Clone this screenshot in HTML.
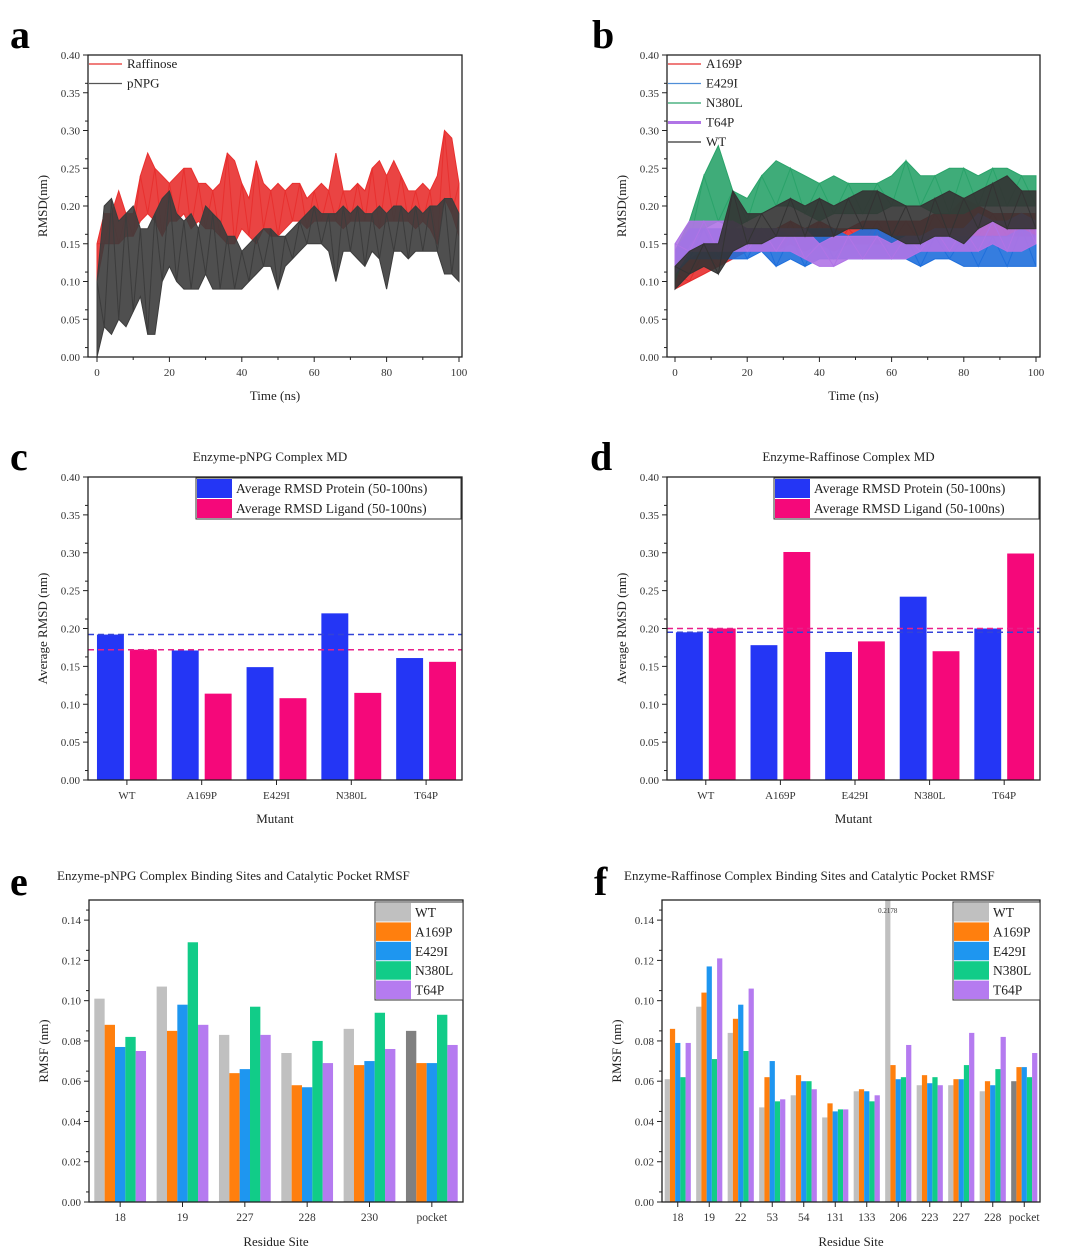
<!DOCTYPE html>
<html><head><meta charset="utf-8"><style>
body{margin:0;background:#fff}
svg{display:block;font-family:"Liberation Serif",serif}
</style></head><body>
<svg id="fig" width="1080" height="1259" viewBox="0 0 1080 1259"></svg>
<script>
// ---------- data ----------
const tA = [0,2,4,6,8,10,12,14,16,18,20,22,24,26,28,30,32,34,36,38,40,42,44,46,48,50,52,54,56,58,60,62,64,66,68,70,72,74,76,78,80,82,84,86,88,90,92,94,96,98,100];
const raffHi = [0.15,0.19,0.19,0.22,0.19,0.19,0.24,0.27,0.25,0.24,0.23,0.24,0.25,0.25,0.23,0.23,0.22,0.23,0.27,0.26,0.23,0.21,0.26,0.23,0.22,0.23,0.22,0.23,0.23,0.21,0.22,0.23,0.22,0.27,0.22,0.22,0.23,0.22,0.25,0.26,0.24,0.26,0.24,0.22,0.22,0.23,0.22,0.24,0.30,0.29,0.23];
const raffLo = [0.10,0.15,0.15,0.15,0.16,0.16,0.18,0.19,0.18,0.16,0.18,0.18,0.19,0.17,0.18,0.17,0.17,0.16,0.15,0.15,0.17,0.16,0.15,0.17,0.16,0.16,0.17,0.18,0.18,0.17,0.18,0.18,0.18,0.18,0.17,0.18,0.18,0.18,0.18,0.17,0.18,0.18,0.18,0.18,0.17,0.18,0.17,0.15,0.21,0.19,0.16];
const pnpgHi = [0.10,0.20,0.21,0.18,0.19,0.20,0.17,0.17,0.19,0.21,0.22,0.19,0.18,0.19,0.17,0.20,0.19,0.18,0.16,0.16,0.14,0.15,0.16,0.17,0.17,0.16,0.16,0.17,0.18,0.19,0.20,0.19,0.19,0.19,0.20,0.19,0.20,0.19,0.19,0.20,0.19,0.20,0.20,0.19,0.20,0.19,0.20,0.20,0.21,0.21,0.19];
const pnpgLo = [0.00,0.04,0.03,0.05,0.04,0.06,0.08,0.03,0.03,0.10,0.12,0.10,0.09,0.09,0.09,0.11,0.09,0.09,0.09,0.09,0.09,0.10,0.11,0.12,0.12,0.09,0.12,0.13,0.14,0.15,0.15,0.15,0.14,0.10,0.14,0.14,0.13,0.12,0.14,0.13,0.09,0.14,0.14,0.13,0.14,0.14,0.14,0.14,0.11,0.11,0.10];

const tB = [0,4,8,12,16,20,24,28,32,36,40,44,48,52,56,60,64,68,72,76,80,84,88,92,96,100];
const a169Hi = [0.11,0.13,0.14,0.15,0.16,0.17,0.17,0.17,0.18,0.17,0.18,0.17,0.17,0.18,0.18,0.18,0.18,0.18,0.19,0.19,0.21,0.20,0.19,0.19,0.19,0.19];
const a169Lo = [0.09,0.10,0.11,0.12,0.13,0.14,0.14,0.14,0.15,0.14,0.15,0.14,0.15,0.15,0.15,0.15,0.15,0.15,0.16,0.16,0.16,0.16,0.16,0.16,0.16,0.16];
const n380Hi = [0.14,0.18,0.24,0.28,0.22,0.21,0.24,0.26,0.25,0.24,0.23,0.24,0.23,0.23,0.23,0.24,0.26,0.24,0.24,0.25,0.25,0.24,0.25,0.25,0.24,0.24];
const n380Lo = [0.10,0.15,0.17,0.18,0.17,0.18,0.19,0.20,0.20,0.19,0.18,0.19,0.19,0.19,0.19,0.20,0.20,0.20,0.19,0.19,0.19,0.20,0.20,0.20,0.20,0.20];
const e429Hi = [0.14,0.17,0.17,0.17,0.17,0.17,0.17,0.17,0.16,0.17,0.17,0.17,0.16,0.17,0.17,0.16,0.16,0.16,0.16,0.16,0.16,0.16,0.16,0.16,0.17,0.16];
const e429Lo = [0.11,0.13,0.13,0.13,0.13,0.13,0.14,0.12,0.13,0.12,0.13,0.13,0.13,0.13,0.13,0.13,0.13,0.12,0.13,0.13,0.12,0.12,0.12,0.12,0.12,0.12];
const t64Hi = [0.15,0.18,0.18,0.18,0.18,0.17,0.17,0.17,0.17,0.17,0.15,0.16,0.16,0.16,0.16,0.15,0.16,0.16,0.17,0.17,0.17,0.19,0.18,0.18,0.19,0.18];
const t64Lo = [0.11,0.14,0.14,0.14,0.14,0.14,0.14,0.14,0.14,0.13,0.12,0.12,0.13,0.13,0.13,0.13,0.13,0.14,0.14,0.14,0.14,0.14,0.15,0.14,0.14,0.15];
const wtHi = [0.12,0.14,0.15,0.15,0.22,0.19,0.19,0.20,0.21,0.20,0.21,0.20,0.21,0.22,0.22,0.21,0.20,0.20,0.21,0.22,0.21,0.22,0.23,0.24,0.22,0.22];
const wtLo = [0.09,0.11,0.12,0.11,0.14,0.15,0.15,0.16,0.16,0.16,0.16,0.16,0.17,0.17,0.17,0.16,0.15,0.15,0.16,0.16,0.15,0.17,0.18,0.17,0.17,0.17];

const mutants = ["WT","A169P","E429I","N380L","T64P"];
const cProtein = [0.192,0.171,0.149,0.220,0.161];
const cLigand = [0.172,0.114,0.108,0.115,0.156];
const cMeanProtein = 0.192, cMeanLigand = 0.172;
const dProtein = [0.195,0.178,0.169,0.242,0.200];
const dLigand = [0.200,0.301,0.183,0.170,0.299];
const dMeanProtein = 0.195, dMeanLigand = 0.200;

const eSites = ["18","19","227","228","230","pocket"];
const eWT = [0.101,0.107,0.083,0.074,0.086,0.085];
const eA169P = [0.088,0.085,0.064,0.058,0.068,0.069];
const eE429I = [0.077,0.098,0.066,0.057,0.070,0.069];
const eN380L = [0.082,0.129,0.097,0.080,0.094,0.093];
const eT64P = [0.075,0.088,0.083,0.069,0.076,0.078];

const fSites = ["18","19","22","53","54","131","133","206","223","227","228","pocket"];
const fWT = [0.061,0.097,0.084,0.047,0.053,0.042,0.055,0.2178,0.058,0.058,0.055,0.060];
const fA169P = [0.086,0.104,0.091,0.062,0.063,0.049,0.056,0.068,0.063,0.061,0.060,0.067];
const fE429I = [0.079,0.117,0.098,0.070,0.060,0.045,0.055,0.061,0.059,0.061,0.058,0.067];
const fN380L = [0.062,0.071,0.075,0.050,0.060,0.046,0.050,0.062,0.062,0.068,0.066,0.062];
const fT64P = [0.079,0.121,0.106,0.051,0.056,0.046,0.053,0.078,0.058,0.084,0.082,0.074];

const rmsTicks = ["0.00","0.05","0.10","0.15","0.20","0.25","0.30","0.35","0.40"];
const rmsfTicks = ["0.00","0.02","0.04","0.06","0.08","0.10","0.12","0.14"];
const timeTicks = [0,20,40,60,80,100];

// ---------- helpers ----------
const NS="http://www.w3.org/2000/svg";
const svg=document.getElementById('fig');
function el(tag,attrs,parent,text){const e=document.createElementNS(NS,tag);for(const k in attrs)e.setAttribute(k,attrs[k]);if(text!==undefined)e.textContent=text;(parent||svg).appendChild(e);return e;}
function lin(d0,d1,r0,r1){return v=>r0+(v-d0)/(d1-d0)*(r1-r0);}
function group(name){const g=el('g',{});return g;}

function frame(g,L,R,T,B){
  const r=el('rect',{x:L,y:T,width:R-L,height:B-T,fill:'none',stroke:'#222','stroke-width':1.3},g);
  
}
function yAxis(g,L,y,ticks,maxV,step){
  ticks.forEach(t=>{const v=parseFloat(t);const yy=y(v);
    el('line',{x1:L-5,x2:L,y1:yy,y2:yy,stroke:'#222','stroke-width':1},g);
    const tx=el('text',{x:L-8,y:yy+4,'text-anchor':'end','font-size':11,fill:'#333'},g,t);
    
    const vm=v+step/2; if(vm<=maxV+1e-9){const ym=y(vm);el('line',{x1:L-3,x2:L,y1:ym,y2:ym,stroke:'#222','stroke-width':1},g);}
  });
}
function title(g,x,y,txt,size,name,rot,anchor){
  const t=el('text',{x:x,y:y,'text-anchor':anchor||'middle','font-size':size,fill:'#222',transform:rot?`rotate(-90 ${x} ${y})`:''},g,txt);
  return t;
}
function letter(x,y,c){const t=el('text',{x:x,y:y,'font-size':40,'font-weight':'bold',fill:'#000'},svg,c);
  }

// ---------- time series panels ----------
function band(g,t,hi,lo,x,y,color,name){
  let d='';
  t.forEach((tt,i)=>{d+=(i?'L':'M')+x(tt).toFixed(1)+','+y(hi[i]).toFixed(1);});
  for(let i=t.length-1;i>=0;i--)d+='L'+x(t[i]).toFixed(1)+','+y(lo[i]).toFixed(1);
  d+='Z';
  const p=el('path',{d:d,fill:color,'fill-opacity':0.9,stroke:color,'stroke-width':1},g);
  
  let z='';
  t.forEach((tt,i)=>{z+=(i?'L':'M')+x(tt).toFixed(1)+','+y(i%2?lo[i]:hi[i]).toFixed(1);});
  el('path',{d:z,fill:'none',stroke:color,'stroke-width':1},g);
}
function tsPanel(name,L,R,series,legend,x0,x100){
  const g=group(name);const T=55,B=357;
  const x=lin(0,100,x0,x100), y=lin(0,0.40,B,T);
  series.forEach(s=>band(g,s.t,s.hi,s.lo,x,y,s.c,s.n));
  frame(g,L,R,T,B);
  yAxis(g,L,y,rmsTicks,0.40,0.025);
  timeTicks.forEach(t=>{const xx=x(t);el('line',{x1:xx,x2:xx,y1:B,y2:B+5,stroke:'#222'},g);
    const tx=el('text',{x:xx,y:B+19,'text-anchor':'middle','font-size':11,fill:'#333'},g,String(t));
    
    if(t<100){const xm=x(t+10);el('line',{x1:xm,x2:xm,y1:B,y2:B+3,stroke:'#222'},g);}});
  title(g,(L+R)/2,B+43,'Time (ns)',13,'x-axis-title');
  title(g,L-41,(T+B)/2,'RMSD(nm)',13,'y-axis-title',true);
  legend.forEach((l,i)=>{const yy=64+i*19.5;
    const ln=el('line',{x1:L+1,x2:L+34,y1:yy,y2:yy,stroke:l.c,'stroke-width':l.w||1.2},g);
    
    const t=el('text',{x:L+39,y:yy+4,'font-size':13,fill:'#222'},g,l.n);
    });
}
tsPanel('panel-a-rmsd',88,462,[
  {t:tA,hi:raffHi,lo:raffLo,c:'#e8302f',n:'series-raffinose'},
  {t:tA,hi:pnpgHi,lo:pnpgLo,c:'#3c3c3c',n:'series-pnpg'}],
  [{n:'Raffinose',c:'#e8302f'},{n:'pNPG',c:'#555'}],97,459);
tsPanel('panel-b-rmsd',667,1040,[
  {t:tB,hi:a169Hi,lo:a169Lo,c:'#e52d2d',n:'series-a169p'},
  {t:tB,hi:n380Hi,lo:n380Lo,c:'#2aa36a',n:'series-n380l'},
  {t:tB,hi:e429Hi,lo:e429Lo,c:'#1f6fdc',n:'series-e429i'},
  {t:tB,hi:t64Hi,lo:t64Lo,c:'#b074e6',n:'series-t64p'},
  {t:tB,hi:wtHi,lo:wtLo,c:'#333333',n:'series-wt'}],
  [{n:'A169P',c:'#e52d2d'},{n:'E429I',c:'#4f8ed8'},{n:'N380L',c:'#2aa36a'},{n:'T64P',c:'#b074e6',w:3},{n:'WT',c:'#333'}],675,1036);

// ---------- average RMSD panels ----------
function avgPanel(name,L,R,prot,lig,mP,mL,ttl){
  const g=group(name);const T=477,B=780;
  const y=lin(0,0.40,B,T);const n=mutants.length;const sp=(R-L)/n;
  const cx=i=>L+sp*(i+0.52);const bw=sp*0.36;
  prot.forEach((v,i)=>{const r=el('rect',{x:cx(i)-bw-3,y:y(v),width:bw,height:B-y(v),fill:'#2436f5'},g);
    });
  lig.forEach((v,i)=>{const r=el('rect',{x:cx(i)+3,y:y(v),width:bw,height:B-y(v),fill:'#f5087a'},g);
    });
  const d1=el('line',{x1:L,x2:R,y1:y(mP),y2:y(mP),stroke:'#3343d8','stroke-width':1.5,'stroke-dasharray':'6,4'},g);
  
  const d2=el('line',{x1:L,x2:R,y1:y(mL),y2:y(mL),stroke:'#e8208a','stroke-width':1.5,'stroke-dasharray':'6,4'},g);
  
  frame(g,L,R,T,B);
  yAxis(g,L,y,rmsTicks,0.40,0.025);
  mutants.forEach((m,i)=>{const xx=cx(i);el('line',{x1:xx,x2:xx,y1:B,y2:B+5,stroke:'#222'},g);
    const t=el('text',{x:xx,y:B+19,'text-anchor':'middle','font-size':11,fill:'#333'},g,m);
    });
  title(g,(L+R)/2,B+43,'Mutant',13,'x-axis-title');
  title(g,L-41,(T+B)/2,'Average RMSD (nm)',13,'y-axis-title',true);
  title(g,(L+R)/2-5,461,ttl,13,'chart-title');
  const lg=group('legend');g.appendChild(lg);
  el('rect',{x:R-266,y:T+1,width:265,height:41,fill:'#fff',stroke:'#333','stroke-width':1},lg);
  [['Average RMSD Protein (50-100ns)','#2436f5'],['Average RMSD Ligand (50-100ns)','#f5087a']].forEach((it,i)=>{
    el('rect',{x:R-265,y:T+2+i*20,width:35,height:19,fill:it[1]},lg);
    const t=el('text',{x:R-226,y:T+16+i*20,'font-size':13.5,fill:'#222'},lg,it[0]);
    });
}
avgPanel('panel-c-avg-rmsd',88,462,cProtein,cLigand,cMeanProtein,cMeanLigand,'Enzyme-pNPG Complex MD');
avgPanel('panel-d-avg-rmsd',667,1040,dProtein,dLigand,dMeanProtein,dMeanLigand,'Enzyme-Raffinose Complex MD');

// ---------- RMSF panels ----------
const rmsfNames=['WT','A169P','E429I','N380L','T64P'];
const rmsfColors=['#c0c0c0','#ff7f0e','#1e96f0','#11cc88','#b57bf0'];
function rmsfPanel(name,L,R,sites,series,ttl,tx,lgL){
  const g=group(name);const T=900,B=1202;
  const y=lin(0,0.15,B,T);const n=sites.length;const sp=(R-L)/n;
  const cx=i=>L+sp*(i+0.5);const bw=sp*0.166;
  series.forEach((s,k)=>{s.forEach((v,i)=>{
    const vv=Math.min(v,0.15);
    let col=rmsfColors[k]; if(k===0&&i===n-1)col='#808080';
    const r=el('rect',{x:cx(i)+(k-2.5)*bw,y:y(vv),width:bw,height:B-y(vv),fill:col},g);
    
    if(v>0.15){const t=el('text',{x:cx(i)+(k-2)*bw,y:T+13,'text-anchor':'middle','font-size':7,fill:'#333'},g,v.toFixed(4));
      }
  });});
  frame(g,L,R,T,B);
  yAxis(g,L,y,rmsfTicks,0.15,0.01);
  sites.forEach((s,i)=>{const xx=cx(i);el('line',{x1:xx,x2:xx,y1:B,y2:B+5,stroke:'#222'},g);
    const t=el('text',{x:xx,y:B+19,'text-anchor':'middle','font-size':11.5,fill:'#333'},g,s);
    });
  title(g,(L+R)/2,B+44,'Residue Site',13,'x-axis-title');
  title(g,L-41,(T+B)/2,'RMSF (nm)',13,'y-axis-title',true);
  title(g,tx,880,ttl,13,'chart-title',false,'start');
  const lg=group('legend');g.appendChild(lg);
  el('rect',{x:lgL,y:T+2,width:R-lgL,height:98,fill:'#fff',stroke:'#333','stroke-width':1},lg);
  rmsfNames.forEach((nm,k)=>{
    el('rect',{x:lgL+1,y:T+3+k*19.4,width:35,height:18.5,fill:rmsfColors[k]},lg);
    const t=el('text',{x:lgL+40,y:T+17+k*19.4,'font-size':13.5,fill:'#222'},lg,nm);
    });
}
rmsfPanel('panel-e-rmsf',89,463,eSites,[eWT,eA169P,eE429I,eN380L,eT64P],'Enzyme-pNPG Complex Binding Sites and Catalytic Pocket RMSF',57,375);
rmsfPanel('panel-f-rmsf',662,1040,fSites,[fWT,fA169P,fE429I,fN380L,fT64P],'Enzyme-Raffinose Complex Binding Sites and Catalytic Pocket RMSF',624,953);

letter(10,48,'a');letter(592,48,'b');letter(10,470,'c');letter(590,470,'d');letter(10,895,'e');letter(594,895,'f');
</script>
</body></html>
